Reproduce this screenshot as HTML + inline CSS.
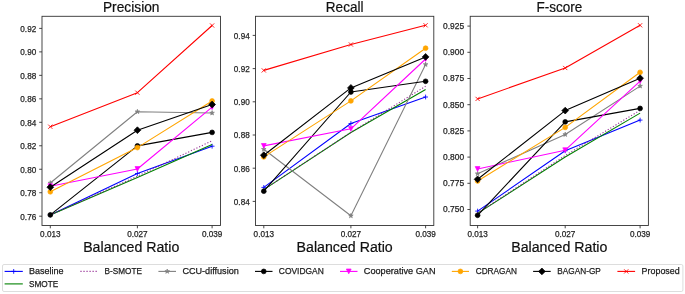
<!DOCTYPE html>
<html><head><meta charset="utf-8"><style>
html,body{margin:0;padding:0;background:#fff;}
svg{display:block;font-family:"Liberation Sans", sans-serif;will-change:transform;}
</style></head><body>
<svg width="685" height="294" viewBox="0 0 685 294">
<defs><clipPath id="c0"><rect x="36.0" y="10.3" width="190.5" height="221.2"/></clipPath><clipPath id="c1"><rect x="249.5" y="10.3" width="190.3" height="221.2"/></clipPath><clipPath id="c2"><rect x="464.2" y="10.3" width="190.2" height="221.2"/></clipPath></defs>
<rect x="0" y="0" width="685" height="294" fill="#fff"/>
<g clip-path="url(#c0)">
<polyline points="50.30,215.00 137.40,173.50 212.10,146.20" fill="none" stroke="#0000ff" stroke-width="1.1" stroke-linejoin="round"/>
<path d="M47.90,215.00L52.70,215.00M50.30,212.60L50.30,217.40" stroke="#0000ff" stroke-width="0.85" fill="none"/>
<path d="M135.00,173.50L139.80,173.50M137.40,171.10L137.40,175.90" stroke="#0000ff" stroke-width="0.85" fill="none"/>
<path d="M209.70,146.20L214.50,146.20M212.10,143.80L212.10,148.60" stroke="#0000ff" stroke-width="0.85" fill="none"/>
<polyline points="50.30,215.00 137.40,177.60 212.10,144.60" fill="none" stroke="#008000" stroke-width="1.1" stroke-linejoin="round"/>
<polyline points="50.30,215.00 137.40,176.20 212.10,140.80" fill="none" stroke="#800080" stroke-width="1.1" stroke-linejoin="round" stroke-dasharray="1.2,1.83" stroke-opacity="0.8"/>
<polyline points="50.30,183.00 137.40,111.70 212.10,113.00" fill="none" stroke="#808080" stroke-width="1.1" stroke-linejoin="round"/>
<path d="M50.30,180.60L50.84,182.26L52.58,182.26L51.17,183.28L51.71,184.94L50.30,183.92L48.89,184.94L49.43,183.28L48.02,182.26L49.76,182.26Z" fill="#808080" stroke="#808080" stroke-width="0.7" stroke-linejoin="miter"/>
<path d="M137.40,109.30L137.94,110.96L139.68,110.96L138.27,111.98L138.81,113.64L137.40,112.62L135.99,113.64L136.53,111.98L135.12,110.96L136.86,110.96Z" fill="#808080" stroke="#808080" stroke-width="0.7" stroke-linejoin="miter"/>
<path d="M212.10,110.60L212.64,112.26L214.38,112.26L212.97,113.28L213.51,114.94L212.10,113.92L210.69,114.94L211.23,113.28L209.82,112.26L211.56,112.26Z" fill="#808080" stroke="#808080" stroke-width="0.7" stroke-linejoin="miter"/>
<polyline points="50.30,214.90 137.40,145.90 212.10,132.40" fill="none" stroke="#000000" stroke-width="1.1" stroke-linejoin="round"/>
<circle cx="50.30" cy="214.90" r="2.40" fill="#000000" stroke="#000000" stroke-width="0.7" stroke-linejoin="miter"/>
<circle cx="137.40" cy="145.90" r="2.40" fill="#000000" stroke="#000000" stroke-width="0.7" stroke-linejoin="miter"/>
<circle cx="212.10" cy="132.40" r="2.40" fill="#000000" stroke="#000000" stroke-width="0.7" stroke-linejoin="miter"/>
<polyline points="50.30,186.20 137.40,169.00 212.10,107.20" fill="none" stroke="#ff00ff" stroke-width="1.1" stroke-linejoin="round"/>
<path d="M47.90,183.80L52.70,183.80L50.30,188.60Z" fill="#ff00ff" stroke="#ff00ff" stroke-width="0.7" stroke-linejoin="miter"/>
<path d="M135.00,166.60L139.80,166.60L137.40,171.40Z" fill="#ff00ff" stroke="#ff00ff" stroke-width="0.7" stroke-linejoin="miter"/>
<path d="M209.70,104.80L214.50,104.80L212.10,109.60Z" fill="#ff00ff" stroke="#ff00ff" stroke-width="0.7" stroke-linejoin="miter"/>
<polyline points="50.30,191.80 137.40,147.60 212.10,101.00" fill="none" stroke="#ffa500" stroke-width="1.1" stroke-linejoin="round"/>
<circle cx="50.30" cy="191.80" r="2.40" fill="#ffa500" stroke="#ffa500" stroke-width="0.7" stroke-linejoin="miter"/>
<circle cx="137.40" cy="147.60" r="2.40" fill="#ffa500" stroke="#ffa500" stroke-width="0.7" stroke-linejoin="miter"/>
<circle cx="212.10" cy="101.00" r="2.40" fill="#ffa500" stroke="#ffa500" stroke-width="0.7" stroke-linejoin="miter"/>
<polyline points="50.30,187.20 137.40,130.20 212.10,104.50" fill="none" stroke="#000000" stroke-width="1.1" stroke-linejoin="round"/>
<path d="M50.30,183.81L53.69,187.20L50.30,190.59L46.91,187.20Z" fill="#000000" stroke="#000000" stroke-width="0.7" stroke-linejoin="miter"/>
<path d="M137.40,126.81L140.79,130.20L137.40,133.59L134.01,130.20Z" fill="#000000" stroke="#000000" stroke-width="0.7" stroke-linejoin="miter"/>
<path d="M212.10,101.11L215.49,104.50L212.10,107.89L208.71,104.50Z" fill="#000000" stroke="#000000" stroke-width="0.7" stroke-linejoin="miter"/>
<polyline points="50.30,126.70 137.40,92.70 212.10,25.50" fill="none" stroke="#ff0000" stroke-width="1.1" stroke-linejoin="round"/>
<path d="M48.20,124.60L52.40,128.80M48.20,128.80L52.40,124.60" stroke="#ff0000" stroke-width="0.85" fill="none"/>
<path d="M135.30,90.60L139.50,94.80M135.30,94.80L139.50,90.60" stroke="#ff0000" stroke-width="0.85" fill="none"/>
<path d="M210.00,23.40L214.20,27.60M210.00,27.60L214.20,23.40" stroke="#ff0000" stroke-width="0.85" fill="none"/>
</g>
<rect x="42.00" y="16.30" width="178.50" height="209.20" fill="none" stroke="#333" stroke-width="0.9"/>
<line x1="39.20" y1="216.20" x2="42.00" y2="216.20" stroke="#333" stroke-width="0.9"/>
<text x="36.20" y="219.70" font-size="8.3" text-anchor="end" fill="#262626" stroke="#262626" stroke-width="0.25" textLength="15.87" lengthAdjust="spacingAndGlyphs">0.76</text>
<line x1="39.20" y1="192.73" x2="42.00" y2="192.73" stroke="#333" stroke-width="0.9"/>
<text x="36.20" y="196.23" font-size="8.3" text-anchor="end" fill="#262626" stroke="#262626" stroke-width="0.25" textLength="15.87" lengthAdjust="spacingAndGlyphs">0.78</text>
<line x1="39.20" y1="169.25" x2="42.00" y2="169.25" stroke="#333" stroke-width="0.9"/>
<text x="36.20" y="172.75" font-size="8.3" text-anchor="end" fill="#262626" stroke="#262626" stroke-width="0.25" textLength="15.87" lengthAdjust="spacingAndGlyphs">0.80</text>
<line x1="39.20" y1="145.78" x2="42.00" y2="145.78" stroke="#333" stroke-width="0.9"/>
<text x="36.20" y="149.28" font-size="8.3" text-anchor="end" fill="#262626" stroke="#262626" stroke-width="0.25" textLength="15.87" lengthAdjust="spacingAndGlyphs">0.82</text>
<line x1="39.20" y1="122.30" x2="42.00" y2="122.30" stroke="#333" stroke-width="0.9"/>
<text x="36.20" y="125.80" font-size="8.3" text-anchor="end" fill="#262626" stroke="#262626" stroke-width="0.25" textLength="15.87" lengthAdjust="spacingAndGlyphs">0.84</text>
<line x1="39.20" y1="98.83" x2="42.00" y2="98.83" stroke="#333" stroke-width="0.9"/>
<text x="36.20" y="102.33" font-size="8.3" text-anchor="end" fill="#262626" stroke="#262626" stroke-width="0.25" textLength="15.87" lengthAdjust="spacingAndGlyphs">0.86</text>
<line x1="39.20" y1="75.35" x2="42.00" y2="75.35" stroke="#333" stroke-width="0.9"/>
<text x="36.20" y="78.85" font-size="8.3" text-anchor="end" fill="#262626" stroke="#262626" stroke-width="0.25" textLength="15.87" lengthAdjust="spacingAndGlyphs">0.88</text>
<line x1="39.20" y1="51.88" x2="42.00" y2="51.88" stroke="#333" stroke-width="0.9"/>
<text x="36.20" y="55.38" font-size="8.3" text-anchor="end" fill="#262626" stroke="#262626" stroke-width="0.25" textLength="15.87" lengthAdjust="spacingAndGlyphs">0.90</text>
<line x1="39.20" y1="28.40" x2="42.00" y2="28.40" stroke="#333" stroke-width="0.9"/>
<text x="36.20" y="31.90" font-size="8.3" text-anchor="end" fill="#262626" stroke="#262626" stroke-width="0.25" textLength="15.87" lengthAdjust="spacingAndGlyphs">0.92</text>
<line x1="50.30" y1="225.50" x2="50.30" y2="228.30" stroke="#333" stroke-width="0.9"/>
<text x="50.30" y="237.00" font-size="8.3" text-anchor="middle" fill="#262626" stroke="#262626" stroke-width="0.25" textLength="20.41" lengthAdjust="spacingAndGlyphs">0.013</text>
<line x1="137.40" y1="225.50" x2="137.40" y2="228.30" stroke="#333" stroke-width="0.9"/>
<text x="137.40" y="237.00" font-size="8.3" text-anchor="middle" fill="#262626" stroke="#262626" stroke-width="0.25" textLength="20.41" lengthAdjust="spacingAndGlyphs">0.027</text>
<line x1="212.10" y1="225.50" x2="212.10" y2="228.30" stroke="#333" stroke-width="0.9"/>
<text x="212.10" y="237.00" font-size="8.3" text-anchor="middle" fill="#262626" stroke="#262626" stroke-width="0.25" textLength="20.41" lengthAdjust="spacingAndGlyphs">0.039</text>
<text x="131.25" y="12.10" font-size="14.3" text-anchor="middle" fill="#111" stroke="#111" stroke-width="0.2" textLength="56.60" lengthAdjust="spacingAndGlyphs">Precision</text>
<text x="131.25" y="251.70" font-size="14.0" text-anchor="middle" fill="#111" stroke="#111" stroke-width="0.2" textLength="96.20" lengthAdjust="spacingAndGlyphs">Balanced Ratio</text>
<g clip-path="url(#c1)">
<polyline points="263.80,187.40 350.90,123.50 425.60,97.00" fill="none" stroke="#0000ff" stroke-width="1.1" stroke-linejoin="round"/>
<path d="M261.40,187.40L266.20,187.40M263.80,185.00L263.80,189.80" stroke="#0000ff" stroke-width="0.85" fill="none"/>
<path d="M348.50,123.50L353.30,123.50M350.90,121.10L350.90,125.90" stroke="#0000ff" stroke-width="0.85" fill="none"/>
<path d="M423.20,97.00L428.00,97.00M425.60,94.60L425.60,99.40" stroke="#0000ff" stroke-width="0.85" fill="none"/>
<polyline points="263.80,189.60 350.90,132.50 425.60,89.40" fill="none" stroke="#008000" stroke-width="1.1" stroke-linejoin="round"/>
<polyline points="263.80,189.50 350.90,132.30 425.60,86.30" fill="none" stroke="#800080" stroke-width="1.1" stroke-linejoin="round" stroke-dasharray="1.2,1.83" stroke-opacity="0.8"/>
<polyline points="263.80,149.30 350.90,215.80 425.60,64.50" fill="none" stroke="#808080" stroke-width="1.1" stroke-linejoin="round"/>
<path d="M263.80,146.90L264.34,148.56L266.08,148.56L264.67,149.58L265.21,151.24L263.80,150.22L262.39,151.24L262.93,149.58L261.52,148.56L263.26,148.56Z" fill="#808080" stroke="#808080" stroke-width="0.7" stroke-linejoin="miter"/>
<path d="M350.90,213.40L351.44,215.06L353.18,215.06L351.77,216.08L352.31,217.74L350.90,216.72L349.49,217.74L350.03,216.08L348.62,215.06L350.36,215.06Z" fill="#808080" stroke="#808080" stroke-width="0.7" stroke-linejoin="miter"/>
<path d="M425.60,62.10L426.14,63.76L427.88,63.76L426.47,64.78L427.01,66.44L425.60,65.42L424.19,66.44L424.73,64.78L423.32,63.76L425.06,63.76Z" fill="#808080" stroke="#808080" stroke-width="0.7" stroke-linejoin="miter"/>
<polyline points="263.80,191.20 350.90,92.00 425.60,81.30" fill="none" stroke="#000000" stroke-width="1.1" stroke-linejoin="round"/>
<circle cx="263.80" cy="191.20" r="2.40" fill="#000000" stroke="#000000" stroke-width="0.7" stroke-linejoin="miter"/>
<circle cx="350.90" cy="92.00" r="2.40" fill="#000000" stroke="#000000" stroke-width="0.7" stroke-linejoin="miter"/>
<circle cx="425.60" cy="81.30" r="2.40" fill="#000000" stroke="#000000" stroke-width="0.7" stroke-linejoin="miter"/>
<polyline points="263.80,145.90 350.90,128.80 425.60,59.00" fill="none" stroke="#ff00ff" stroke-width="1.1" stroke-linejoin="round"/>
<path d="M261.40,143.50L266.20,143.50L263.80,148.30Z" fill="#ff00ff" stroke="#ff00ff" stroke-width="0.7" stroke-linejoin="miter"/>
<path d="M348.50,126.40L353.30,126.40L350.90,131.20Z" fill="#ff00ff" stroke="#ff00ff" stroke-width="0.7" stroke-linejoin="miter"/>
<path d="M423.20,56.60L428.00,56.60L425.60,61.40Z" fill="#ff00ff" stroke="#ff00ff" stroke-width="0.7" stroke-linejoin="miter"/>
<polyline points="263.80,156.90 350.90,100.90 425.60,48.20" fill="none" stroke="#ffa500" stroke-width="1.1" stroke-linejoin="round"/>
<circle cx="263.80" cy="156.90" r="2.40" fill="#ffa500" stroke="#ffa500" stroke-width="0.7" stroke-linejoin="miter"/>
<circle cx="350.90" cy="100.90" r="2.40" fill="#ffa500" stroke="#ffa500" stroke-width="0.7" stroke-linejoin="miter"/>
<circle cx="425.60" cy="48.20" r="2.40" fill="#ffa500" stroke="#ffa500" stroke-width="0.7" stroke-linejoin="miter"/>
<polyline points="263.80,155.20 350.90,87.90 425.60,56.90" fill="none" stroke="#000000" stroke-width="1.1" stroke-linejoin="round"/>
<path d="M263.80,151.81L267.19,155.20L263.80,158.59L260.41,155.20Z" fill="#000000" stroke="#000000" stroke-width="0.7" stroke-linejoin="miter"/>
<path d="M350.90,84.51L354.29,87.90L350.90,91.29L347.51,87.90Z" fill="#000000" stroke="#000000" stroke-width="0.7" stroke-linejoin="miter"/>
<path d="M425.60,53.51L428.99,56.90L425.60,60.29L422.21,56.90Z" fill="#000000" stroke="#000000" stroke-width="0.7" stroke-linejoin="miter"/>
<polyline points="263.80,70.40 350.90,44.50 425.60,25.30" fill="none" stroke="#ff0000" stroke-width="1.1" stroke-linejoin="round"/>
<path d="M261.70,68.30L265.90,72.50M261.70,72.50L265.90,68.30" stroke="#ff0000" stroke-width="0.85" fill="none"/>
<path d="M348.80,42.40L353.00,46.60M348.80,46.60L353.00,42.40" stroke="#ff0000" stroke-width="0.85" fill="none"/>
<path d="M423.50,23.20L427.70,27.40M423.50,27.40L427.70,23.20" stroke="#ff0000" stroke-width="0.85" fill="none"/>
</g>
<rect x="255.50" y="16.30" width="178.30" height="209.20" fill="none" stroke="#333" stroke-width="0.9"/>
<line x1="252.70" y1="201.40" x2="255.50" y2="201.40" stroke="#333" stroke-width="0.9"/>
<text x="249.70" y="204.70" font-size="8.3" text-anchor="end" fill="#262626" stroke="#262626" stroke-width="0.25" textLength="15.87" lengthAdjust="spacingAndGlyphs">0.84</text>
<line x1="252.70" y1="168.20" x2="255.50" y2="168.20" stroke="#333" stroke-width="0.9"/>
<text x="249.70" y="171.50" font-size="8.3" text-anchor="end" fill="#262626" stroke="#262626" stroke-width="0.25" textLength="15.87" lengthAdjust="spacingAndGlyphs">0.86</text>
<line x1="252.70" y1="135.00" x2="255.50" y2="135.00" stroke="#333" stroke-width="0.9"/>
<text x="249.70" y="138.30" font-size="8.3" text-anchor="end" fill="#262626" stroke="#262626" stroke-width="0.25" textLength="15.87" lengthAdjust="spacingAndGlyphs">0.88</text>
<line x1="252.70" y1="101.80" x2="255.50" y2="101.80" stroke="#333" stroke-width="0.9"/>
<text x="249.70" y="105.10" font-size="8.3" text-anchor="end" fill="#262626" stroke="#262626" stroke-width="0.25" textLength="15.87" lengthAdjust="spacingAndGlyphs">0.90</text>
<line x1="252.70" y1="68.60" x2="255.50" y2="68.60" stroke="#333" stroke-width="0.9"/>
<text x="249.70" y="71.90" font-size="8.3" text-anchor="end" fill="#262626" stroke="#262626" stroke-width="0.25" textLength="15.87" lengthAdjust="spacingAndGlyphs">0.92</text>
<line x1="252.70" y1="35.40" x2="255.50" y2="35.40" stroke="#333" stroke-width="0.9"/>
<text x="249.70" y="38.70" font-size="8.3" text-anchor="end" fill="#262626" stroke="#262626" stroke-width="0.25" textLength="15.87" lengthAdjust="spacingAndGlyphs">0.94</text>
<line x1="263.80" y1="225.50" x2="263.80" y2="228.30" stroke="#333" stroke-width="0.9"/>
<text x="263.80" y="237.00" font-size="8.3" text-anchor="middle" fill="#262626" stroke="#262626" stroke-width="0.25" textLength="20.41" lengthAdjust="spacingAndGlyphs">0.013</text>
<line x1="350.90" y1="225.50" x2="350.90" y2="228.30" stroke="#333" stroke-width="0.9"/>
<text x="350.90" y="237.00" font-size="8.3" text-anchor="middle" fill="#262626" stroke="#262626" stroke-width="0.25" textLength="20.41" lengthAdjust="spacingAndGlyphs">0.027</text>
<line x1="425.60" y1="225.50" x2="425.60" y2="228.30" stroke="#333" stroke-width="0.9"/>
<text x="425.60" y="237.00" font-size="8.3" text-anchor="middle" fill="#262626" stroke="#262626" stroke-width="0.25" textLength="20.41" lengthAdjust="spacingAndGlyphs">0.039</text>
<text x="344.65" y="12.10" font-size="14.3" text-anchor="middle" fill="#111" stroke="#111" stroke-width="0.2" textLength="37.60" lengthAdjust="spacingAndGlyphs">Recall</text>
<text x="344.65" y="251.70" font-size="14.0" text-anchor="middle" fill="#111" stroke="#111" stroke-width="0.2" textLength="96.20" lengthAdjust="spacingAndGlyphs">Balanced Ratio</text>
<g clip-path="url(#c2)">
<polyline points="477.60,211.10 565.20,150.80 640.10,120.10" fill="none" stroke="#0000ff" stroke-width="1.1" stroke-linejoin="round"/>
<path d="M475.20,211.10L480.00,211.10M477.60,208.70L477.60,213.50" stroke="#0000ff" stroke-width="0.85" fill="none"/>
<path d="M562.80,150.80L567.60,150.80M565.20,148.40L565.20,153.20" stroke="#0000ff" stroke-width="0.85" fill="none"/>
<path d="M637.70,120.10L642.50,120.10M640.10,117.70L640.10,122.50" stroke="#0000ff" stroke-width="0.85" fill="none"/>
<polyline points="477.60,213.40 565.20,157.00 640.10,113.10" fill="none" stroke="#008000" stroke-width="1.1" stroke-linejoin="round"/>
<polyline points="477.60,213.20 565.20,155.50 640.10,110.30" fill="none" stroke="#800080" stroke-width="1.1" stroke-linejoin="round" stroke-dasharray="1.2,1.83" stroke-opacity="0.8"/>
<polyline points="477.60,173.70 565.20,134.50 640.10,86.10" fill="none" stroke="#808080" stroke-width="1.1" stroke-linejoin="round"/>
<path d="M477.60,171.30L478.14,172.96L479.88,172.96L478.47,173.98L479.01,175.64L477.60,174.62L476.19,175.64L476.73,173.98L475.32,172.96L477.06,172.96Z" fill="#808080" stroke="#808080" stroke-width="0.7" stroke-linejoin="miter"/>
<path d="M565.20,132.10L565.74,133.76L567.48,133.76L566.07,134.78L566.61,136.44L565.20,135.42L563.79,136.44L564.33,134.78L562.92,133.76L564.66,133.76Z" fill="#808080" stroke="#808080" stroke-width="0.7" stroke-linejoin="miter"/>
<path d="M640.10,83.70L640.64,85.36L642.38,85.36L640.97,86.38L641.51,88.04L640.10,87.02L638.69,88.04L639.23,86.38L637.82,85.36L639.56,85.36Z" fill="#808080" stroke="#808080" stroke-width="0.7" stroke-linejoin="miter"/>
<polyline points="477.60,215.30 565.20,121.90 640.10,108.40" fill="none" stroke="#000000" stroke-width="1.1" stroke-linejoin="round"/>
<circle cx="477.60" cy="215.30" r="2.40" fill="#000000" stroke="#000000" stroke-width="0.7" stroke-linejoin="miter"/>
<circle cx="565.20" cy="121.90" r="2.40" fill="#000000" stroke="#000000" stroke-width="0.7" stroke-linejoin="miter"/>
<circle cx="640.10" cy="108.40" r="2.40" fill="#000000" stroke="#000000" stroke-width="0.7" stroke-linejoin="miter"/>
<polyline points="477.60,169.00 565.20,150.20 640.10,81.20" fill="none" stroke="#ff00ff" stroke-width="1.1" stroke-linejoin="round"/>
<path d="M475.20,166.60L480.00,166.60L477.60,171.40Z" fill="#ff00ff" stroke="#ff00ff" stroke-width="0.7" stroke-linejoin="miter"/>
<path d="M562.80,147.80L567.60,147.80L565.20,152.60Z" fill="#ff00ff" stroke="#ff00ff" stroke-width="0.7" stroke-linejoin="miter"/>
<path d="M637.70,78.80L642.50,78.80L640.10,83.60Z" fill="#ff00ff" stroke="#ff00ff" stroke-width="0.7" stroke-linejoin="miter"/>
<polyline points="477.60,181.00 565.20,127.40 640.10,72.30" fill="none" stroke="#ffa500" stroke-width="1.1" stroke-linejoin="round"/>
<circle cx="477.60" cy="181.00" r="2.40" fill="#ffa500" stroke="#ffa500" stroke-width="0.7" stroke-linejoin="miter"/>
<circle cx="565.20" cy="127.40" r="2.40" fill="#ffa500" stroke="#ffa500" stroke-width="0.7" stroke-linejoin="miter"/>
<circle cx="640.10" cy="72.30" r="2.40" fill="#ffa500" stroke="#ffa500" stroke-width="0.7" stroke-linejoin="miter"/>
<polyline points="477.60,179.30 565.20,110.60 640.10,78.20" fill="none" stroke="#000000" stroke-width="1.1" stroke-linejoin="round"/>
<path d="M477.60,175.91L480.99,179.30L477.60,182.69L474.21,179.30Z" fill="#000000" stroke="#000000" stroke-width="0.7" stroke-linejoin="miter"/>
<path d="M565.20,107.21L568.59,110.60L565.20,113.99L561.81,110.60Z" fill="#000000" stroke="#000000" stroke-width="0.7" stroke-linejoin="miter"/>
<path d="M640.10,74.81L643.49,78.20L640.10,81.59L636.71,78.20Z" fill="#000000" stroke="#000000" stroke-width="0.7" stroke-linejoin="miter"/>
<polyline points="477.60,98.90 565.20,68.00 640.10,25.30" fill="none" stroke="#ff0000" stroke-width="1.1" stroke-linejoin="round"/>
<path d="M475.50,96.80L479.70,101.00M475.50,101.00L479.70,96.80" stroke="#ff0000" stroke-width="0.85" fill="none"/>
<path d="M563.10,65.90L567.30,70.10M563.10,70.10L567.30,65.90" stroke="#ff0000" stroke-width="0.85" fill="none"/>
<path d="M638.00,23.20L642.20,27.40M638.00,27.40L642.20,23.20" stroke="#ff0000" stroke-width="0.85" fill="none"/>
</g>
<rect x="470.20" y="16.30" width="178.20" height="209.20" fill="none" stroke="#333" stroke-width="0.9"/>
<line x1="467.40" y1="209.50" x2="470.20" y2="209.50" stroke="#333" stroke-width="0.9"/>
<text x="464.10" y="212.30" font-size="8.3" text-anchor="end" fill="#262626" stroke="#262626" stroke-width="0.25" textLength="21.02" lengthAdjust="spacingAndGlyphs">0.750</text>
<line x1="467.40" y1="183.30" x2="470.20" y2="183.30" stroke="#333" stroke-width="0.9"/>
<text x="464.10" y="186.10" font-size="8.3" text-anchor="end" fill="#262626" stroke="#262626" stroke-width="0.25" textLength="21.02" lengthAdjust="spacingAndGlyphs">0.775</text>
<line x1="467.40" y1="157.10" x2="470.20" y2="157.10" stroke="#333" stroke-width="0.9"/>
<text x="464.10" y="159.90" font-size="8.3" text-anchor="end" fill="#262626" stroke="#262626" stroke-width="0.25" textLength="21.02" lengthAdjust="spacingAndGlyphs">0.800</text>
<line x1="467.40" y1="130.90" x2="470.20" y2="130.90" stroke="#333" stroke-width="0.9"/>
<text x="464.10" y="133.70" font-size="8.3" text-anchor="end" fill="#262626" stroke="#262626" stroke-width="0.25" textLength="21.02" lengthAdjust="spacingAndGlyphs">0.825</text>
<line x1="467.40" y1="104.70" x2="470.20" y2="104.70" stroke="#333" stroke-width="0.9"/>
<text x="464.10" y="107.50" font-size="8.3" text-anchor="end" fill="#262626" stroke="#262626" stroke-width="0.25" textLength="21.02" lengthAdjust="spacingAndGlyphs">0.850</text>
<line x1="467.40" y1="78.50" x2="470.20" y2="78.50" stroke="#333" stroke-width="0.9"/>
<text x="464.10" y="81.30" font-size="8.3" text-anchor="end" fill="#262626" stroke="#262626" stroke-width="0.25" textLength="21.02" lengthAdjust="spacingAndGlyphs">0.875</text>
<line x1="467.40" y1="52.30" x2="470.20" y2="52.30" stroke="#333" stroke-width="0.9"/>
<text x="464.10" y="55.10" font-size="8.3" text-anchor="end" fill="#262626" stroke="#262626" stroke-width="0.25" textLength="21.02" lengthAdjust="spacingAndGlyphs">0.900</text>
<line x1="467.40" y1="26.10" x2="470.20" y2="26.10" stroke="#333" stroke-width="0.9"/>
<text x="464.10" y="28.90" font-size="8.3" text-anchor="end" fill="#262626" stroke="#262626" stroke-width="0.25" textLength="21.02" lengthAdjust="spacingAndGlyphs">0.925</text>
<line x1="477.60" y1="225.50" x2="477.60" y2="228.30" stroke="#333" stroke-width="0.9"/>
<text x="477.60" y="237.00" font-size="8.3" text-anchor="middle" fill="#262626" stroke="#262626" stroke-width="0.25" textLength="20.41" lengthAdjust="spacingAndGlyphs">0.013</text>
<line x1="565.20" y1="225.50" x2="565.20" y2="228.30" stroke="#333" stroke-width="0.9"/>
<text x="565.20" y="237.00" font-size="8.3" text-anchor="middle" fill="#262626" stroke="#262626" stroke-width="0.25" textLength="20.41" lengthAdjust="spacingAndGlyphs">0.027</text>
<line x1="640.10" y1="225.50" x2="640.10" y2="228.30" stroke="#333" stroke-width="0.9"/>
<text x="640.10" y="237.00" font-size="8.3" text-anchor="middle" fill="#262626" stroke="#262626" stroke-width="0.25" textLength="20.41" lengthAdjust="spacingAndGlyphs">0.039</text>
<text x="559.30" y="12.10" font-size="14.3" text-anchor="middle" fill="#111" stroke="#111" stroke-width="0.2" textLength="45.80" lengthAdjust="spacingAndGlyphs">F-score</text>
<text x="559.30" y="251.70" font-size="14.0" text-anchor="middle" fill="#111" stroke="#111" stroke-width="0.2" textLength="96.20" lengthAdjust="spacingAndGlyphs">Balanced Ratio</text>
<rect x="2.5" y="264.5" width="680.4" height="27.0" rx="1.5" fill="#fff" stroke="#d4d4d4" stroke-width="0.8"/>
<line x1="4.6" y1="271.4" x2="22.8" y2="271.4" stroke="#0000ff" stroke-width="1.1"/>
<path d="M11.30,271.40L16.10,271.40M13.70,269.00L13.70,273.80" stroke="#0000ff" stroke-width="0.85" fill="none"/>
<text x="28.90" y="274.40" font-size="9.8" text-anchor="start" fill="#1a1a1a" stroke="#1a1a1a" stroke-width="0.25" textLength="34.60" lengthAdjust="spacingAndGlyphs">Baseline</text>
<line x1="4.6" y1="283.9" x2="22.8" y2="283.9" stroke="#008000" stroke-width="1.1"/>
<text x="28.90" y="286.90" font-size="9.8" text-anchor="start" fill="#1a1a1a" stroke="#1a1a1a" stroke-width="0.25" textLength="29.30" lengthAdjust="spacingAndGlyphs">SMOTE</text>
<line x1="80.4" y1="271.4" x2="97.4" y2="271.4" stroke="#800080" stroke-width="1.1" stroke-dasharray="1.2,1.83" stroke-opacity="0.8"/>
<text x="104.60" y="274.40" font-size="9.8" text-anchor="start" fill="#1a1a1a" stroke="#1a1a1a" stroke-width="0.25" textLength="37.40" lengthAdjust="spacingAndGlyphs">B-SMOTE</text>
<line x1="158.4" y1="271.4" x2="176.0" y2="271.4" stroke="#808080" stroke-width="1.1"/>
<path d="M167.20,269.00L167.74,270.66L169.48,270.66L168.07,271.68L168.61,273.34L167.20,272.32L165.79,273.34L166.33,271.68L164.92,270.66L166.66,270.66Z" fill="#808080" stroke="#808080" stroke-width="0.7" stroke-linejoin="miter"/>
<text x="182.40" y="274.40" font-size="9.8" text-anchor="start" fill="#1a1a1a" stroke="#1a1a1a" stroke-width="0.25" textLength="56.40" lengthAdjust="spacingAndGlyphs">CCU-diffusion</text>
<line x1="255.0" y1="271.4" x2="272.5" y2="271.4" stroke="#000000" stroke-width="1.1"/>
<circle cx="263.75" cy="271.40" r="2.40" fill="#000000" stroke="#000000" stroke-width="0.7" stroke-linejoin="miter"/>
<text x="278.80" y="274.40" font-size="9.8" text-anchor="start" fill="#1a1a1a" stroke="#1a1a1a" stroke-width="0.25" textLength="45.00" lengthAdjust="spacingAndGlyphs">COVIDGAN</text>
<line x1="340.0" y1="271.4" x2="357.5" y2="271.4" stroke="#ff00ff" stroke-width="1.1"/>
<path d="M346.35,269.00L351.15,269.00L348.75,273.80Z" fill="#ff00ff" stroke="#ff00ff" stroke-width="0.7" stroke-linejoin="miter"/>
<text x="363.80" y="274.40" font-size="9.8" text-anchor="start" fill="#1a1a1a" stroke="#1a1a1a" stroke-width="0.25" textLength="71.70" lengthAdjust="spacingAndGlyphs">Cooperative GAN</text>
<line x1="451.8" y1="271.4" x2="469.0" y2="271.4" stroke="#ffa500" stroke-width="1.1"/>
<circle cx="460.40" cy="271.40" r="2.40" fill="#ffa500" stroke="#ffa500" stroke-width="0.7" stroke-linejoin="miter"/>
<text x="475.70" y="274.40" font-size="9.8" text-anchor="start" fill="#1a1a1a" stroke="#1a1a1a" stroke-width="0.25" textLength="41.20" lengthAdjust="spacingAndGlyphs">CDRAGAN</text>
<line x1="533.1" y1="271.4" x2="550.7" y2="271.4" stroke="#000000" stroke-width="1.1"/>
<path d="M541.90,268.01L545.29,271.40L541.90,274.79L538.51,271.40Z" fill="#000000" stroke="#000000" stroke-width="0.7" stroke-linejoin="miter"/>
<text x="557.30" y="274.40" font-size="9.8" text-anchor="start" fill="#1a1a1a" stroke="#1a1a1a" stroke-width="0.25" textLength="43.50" lengthAdjust="spacingAndGlyphs">BAGAN-GP</text>
<line x1="617.4" y1="271.4" x2="635.1" y2="271.4" stroke="#ff0000" stroke-width="1.1"/>
<path d="M624.15,269.30L628.35,273.50M624.15,273.50L628.35,269.30" stroke="#ff0000" stroke-width="0.85" fill="none"/>
<text x="641.60" y="274.40" font-size="9.8" text-anchor="start" fill="#1a1a1a" stroke="#1a1a1a" stroke-width="0.25" textLength="38.10" lengthAdjust="spacingAndGlyphs">Proposed</text>
</svg>
</body></html>
